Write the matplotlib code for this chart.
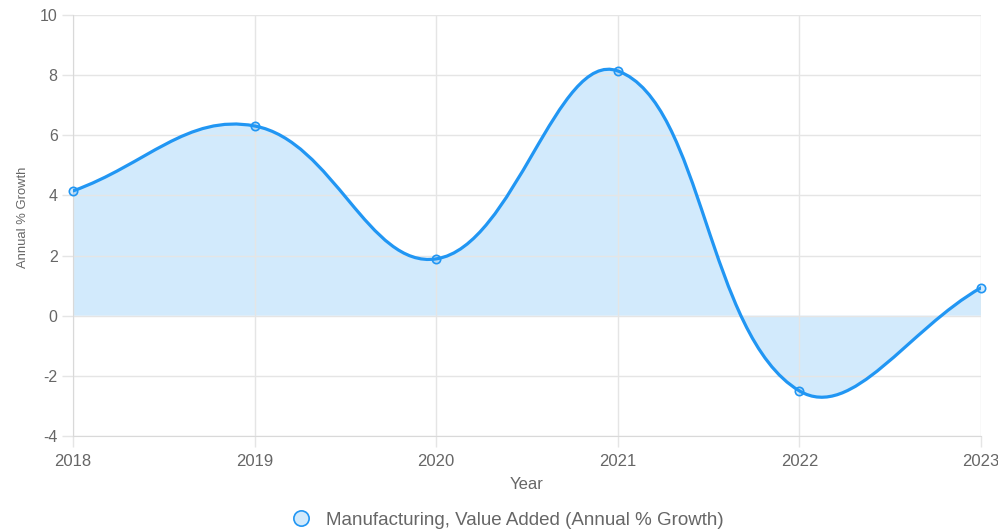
import numpy as np
import matplotlib
matplotlib.use('Agg')
import matplotlib.pyplot as plt
from matplotlib.path import Path
from matplotlib.patches import PathPatch
from matplotlib.lines import Line2D

# ─── data (doc tu hinh) ─────────────────────────
years = [2018, 2019, 2020, 2021, 2022, 2023]
growth = [4.15, 6.31, 1.89, 8.14, -2.50, 0.93]
y_ticks = [-4, -2, 0, 2, 4, 6, 8, 10]
label = 'Manufacturing, Value Added (Annual % Growth)'

LINE = '#2196f3'
FILL = (33 / 255, 150 / 255, 243 / 255, 0.2)
GRID = '#e5e5e5'
TXT = '#666666'
TENSION = 0.4

plt.rcParams['font.family'] = ['Liberation Sans', 'DejaVu Sans']
plt.rcParams['axes.unicode_minus'] = False

fig = plt.figure(figsize=(9.98, 5.29), dpi=100)
W, H = 998, 529
ax = fig.add_axes([73 / W, (H - 436) / H, 908 / W, 421 / H])
ax.set_xlim(2018, 2023)
ax.set_ylim(-4, 10)


def spline_path(xs, ys, t):
    """Cubic bezier kieu Chart.js (tension), tinh trong toa do pixel."""
    pts = ax.transData.transform(np.column_stack([xs, ys]))
    n = len(pts)
    cp_prev, cp_next = [], []
    for i in range(n):
        cur = pts[i]
        prv = pts[i - 1] if i > 0 else cur
        nxt = pts[i + 1] if i < n - 1 else cur
        d01 = np.hypot(*(cur - prv))
        d12 = np.hypot(*(nxt - cur))
        tot = d01 + d12
        s01 = d01 / tot if tot else 0
        s12 = d12 / tot if tot else 0
        cp_prev.append(cur - t * s01 * (nxt - prv))
        cp_next.append(cur + t * s12 * (nxt - prv))
    verts = [pts[0]]
    codes = [Path.MOVETO]
    for i in range(1, n):
        verts += [cp_next[i - 1], cp_prev[i], pts[i]]
        codes += [Path.CURVE4] * 3
    inv = ax.transData.inverted()
    return inv.transform(np.array(verts)), codes


verts, codes = spline_path(years, growth, TENSION)

# fill toi y=0
fverts = list(verts) + [(years[-1], 0), (years[0], 0), (years[0], 0)]
fcodes = list(codes) + [Path.LINETO, Path.LINETO, Path.CLOSEPOLY]
ax.add_patch(PathPatch(Path(fverts, fcodes), facecolor=FILL, edgecolor='none', zorder=1))
ax.add_patch(PathPatch(Path(verts, codes), facecolor='none', edgecolor=LINE,
                       lw=2.3, capstyle='round', joinstyle='round', zorder=3))
ax.plot(years, growth, 'o', ms=6, mfc=FILL, mec=LINE, mew=1.2, zorder=4, clip_on=False)

ax.set_xticks(years)
ax.set_yticks(y_ticks)
ax.grid(True, color=GRID, lw=1, zorder=0)
for s in ['top', 'right']:
    ax.spines[s].set_visible(False)
for s in ['left', 'bottom']:
    ax.spines[s].set_color('#d9d9d9')
ax.tick_params(axis='both', colors=GRID, length=8, width=1, labelcolor=TXT)
ax.tick_params(axis='y', pad=3, labelsize=11.5)
ax.tick_params(axis='x', pad=5, labelsize=12)
ax.set_xlabel('Year', color=TXT, fontsize=12, labelpad=6)
ax.set_ylabel('Annual % Growth', color=TXT, fontsize=9.4)
ax.yaxis.set_label_coords(-0.049, 0.52)

h = Line2D([], [], ls='none', marker='o', ms=11, mfc=FILL, mec=LINE, mew=1.2)
fig.legend([h], [label], loc='center', bbox_to_anchor=(503 / W, 1 - 520 / H),
           frameon=False, fontsize=13.5, labelcolor=TXT, handletextpad=0.3,
           borderaxespad=0)

fig.savefig('out.png', dpi=100)
